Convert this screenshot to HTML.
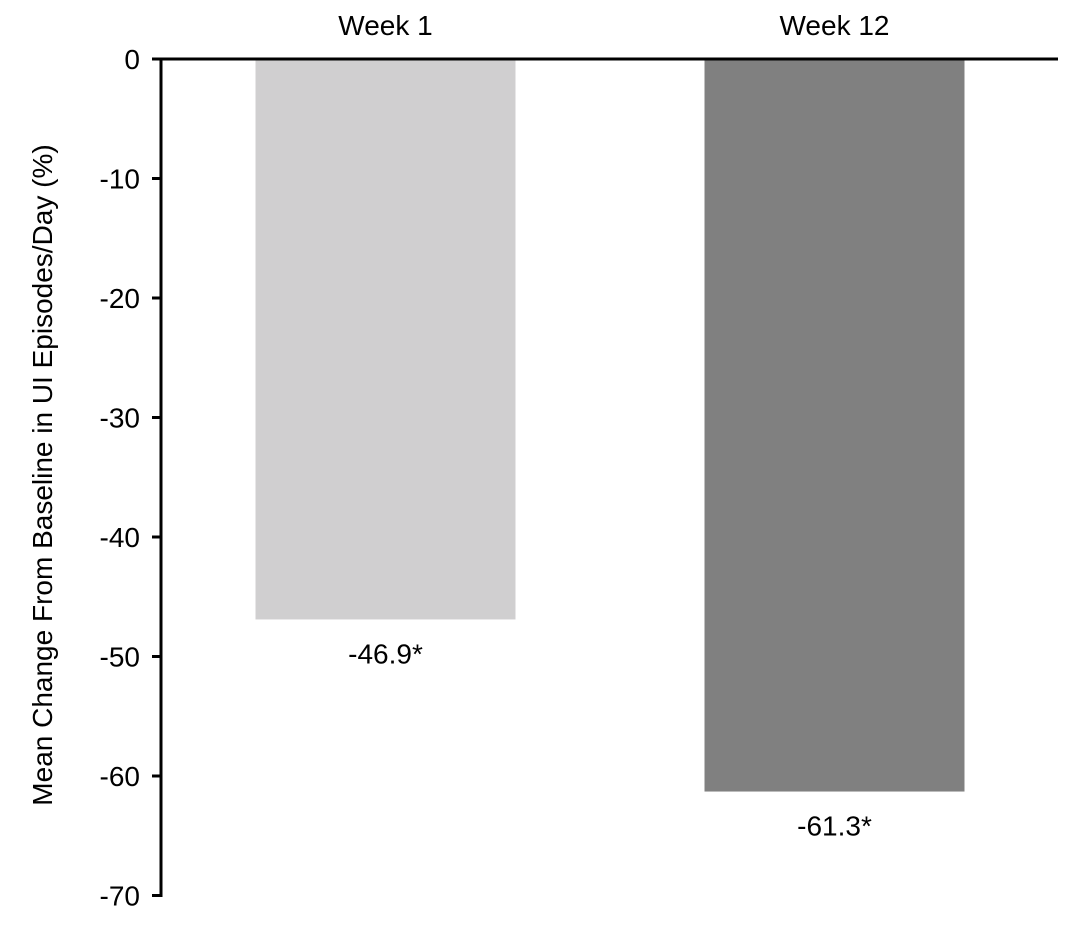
<!DOCTYPE html>
<html><head><meta charset="utf-8"><style>
body{margin:0;background:#fff;}
svg{display:block;font-family:"Liberation Sans",Arial,sans-serif;}
</style></head><body>
<svg id="chart" width="1080" height="939" viewBox="0 0 1080 939"></svg>
<script>
const categories = ["Week 1", "Week 12"];
const values = [-46.9, -61.3];
const valueLabels = ["-46.9*", "-61.3*"];
const colors = ["#d0cfd0", "#808080"];
const ticks = [0, -10, -20, -30, -40, -50, -60, -70];

const svg = document.getElementById('chart');
const NS = 'http://www.w3.org/2000/svg';
const y0 = 59, y1 = 895.5, axisX = 161;
const yScale = v => y0 + (v / -70) * (y1 - y0);
const bandStart = 161, bandW = 449;
const xCenter = i => bandStart + bandW * (i + 0.5);
const barW = 260;

function mk(tag, attrs, text) {
  const e = document.createElementNS(NS, tag);
  for (const k in attrs) e.setAttribute(k, attrs[k]);
  if (text !== undefined) e.textContent = text;
  svg.appendChild(e);
  return e;
}

values.forEach((v, i) => {
  const cx = xCenter(i);
  const r = mk('rect', {x: cx - barW/2, y: yScale(0), width: barW, height: yScale(v) - yScale(0), fill: colors[i]});
  
  
  const t = mk('text', {x: cx, y: yScale(v) + 44, 'font-size': 28, 'text-anchor': 'middle', fill: '#000'}, valueLabels[i]);
  
  
  const c = mk('text', {x: cx, y: 35, 'font-size': 28, 'text-anchor': 'middle', fill: '#000'}, categories[i]);
  
  
});

const xa = mk('line', {x1: axisX - 9, y1: y0, x2: 1058, y2: y0, stroke: '#000', 'stroke-width': 3});


const ya = mk('line', {x1: axisX, y1: y0 - 1.5, x2: axisX, y2: y1 + 1.5, stroke: '#000', 'stroke-width': 3});



ticks.forEach(t => {
  const y = yScale(t);
  const tk = mk('line', {x1: axisX - 9, y1: y, x2: axisX, y2: y, stroke: '#000', 'stroke-width': 3});
  
  
  const lb = mk('text', {x: 140, y: y + 10, 'font-size': 28, 'text-anchor': 'end', fill: '#000'}, String(t));
  
  
});

const title = mk('text', {x: 0, y: 0, 'font-size': 28, 'text-anchor': 'middle', fill: '#000', transform: 'translate(52,475) rotate(-90)'}, 'Mean Change From Baseline in UI Episodes/Day (%)');


</script>
</body></html>
